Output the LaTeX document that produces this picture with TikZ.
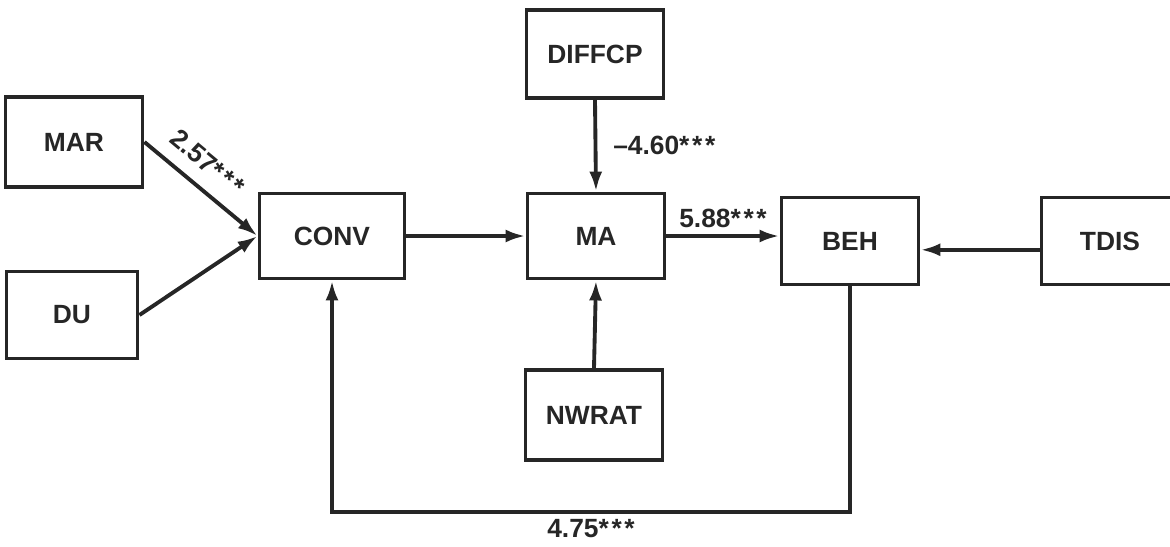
\documentclass[tikz,border=0pt]{standalone}
\usepackage{fontspec}
\setmainfont{Liberation Sans}
\usetikzlibrary{arrows.meta,calc}
\definecolor{LineClr}{rgb}{0.15,0.15,0.15}
\newcommand{\sig}{*\kern.1em*\kern.1em*}

\begin{document}
\begin{tikzpicture}[x=0.2mm,y=-0.2mm,
  box/.style={draw=LineClr,line width=2.2pt,inner sep=0pt,text=LineClr,
    minimum width=27.4mm,minimum height=17.4mm,font=\fontsize{15}{18}\selectfont\bfseries},
  link/.style={draw=LineClr,line width=2.2pt,-{Latex[length=4mm,width=2.6mm]}},
  coef/.style={text=LineClr,font=\fontsize{15}{18}\selectfont\bfseries}]
\useasboundingbox (0,0) rectangle (1170,546);

% variables
\node[box,minimum height=18mm] (MAR) at (74,142) {MAR};
\node[box,minimum width=26.2mm] (DU) at (72,315) {DU};
\node[box,minimum width=29mm,minimum height=17mm] (CONV) at (332,236) {CONV};
\node[box,minimum height=17.6mm] (DIFFCP) at (595,54) {DIFFCP};
\node[box,minimum height=17mm] (MA) at (596,236) {MA};
\node[box,minimum height=18mm] (NWRAT) at (594,415) {NWRAT};
\node[box] (BEH) at (850,241) {BEH};
\node[box] (TDIS) at (1110,241) {TDIS};
\coordinate (fb) at (0,512);

% paths
\draw[link] (MAR.east) -- node[coef,above=1.5mm,sloped,pos=.42]{2.57\sig} (CONV.west);
\draw[link] (DU.east) -- (CONV.west);
\draw[link] (CONV.east) -- (MA.west);
\draw[link] (DIFFCP.south) -- node[coef,right,xshift=2mm]{–4.60\sig} (MA.north);
\draw[link] (NWRAT.north) -- (MA.south);
\draw[link] (MA.east) -- node[coef,above]{5.88\sig} (MA.east -| BEH.west);
\draw[link] ([yshift=-5]TDIS.west) -- ([yshift=-5]BEH.east);
\draw[link] (BEH.south) -- (BEH.south |- fb) -- node[coef,below]{4.75\sig} (CONV.south |- fb) -- (CONV.south);

\end{tikzpicture}
\end{document}
